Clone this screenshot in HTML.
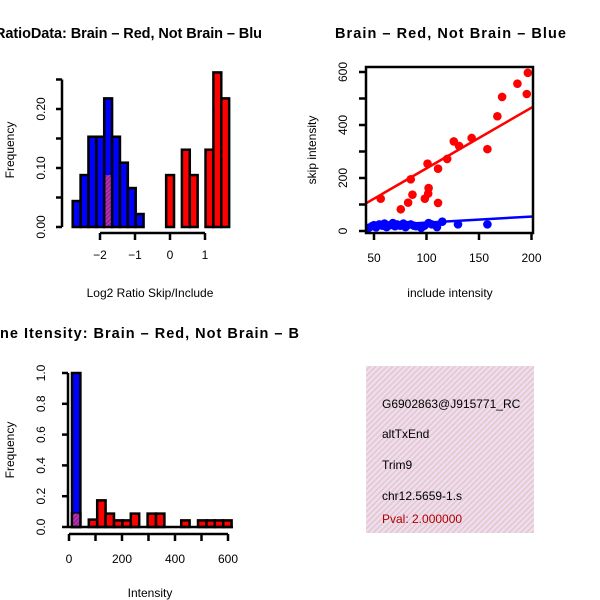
<!DOCTYPE html>
<html><head><meta charset="utf-8"><style>
html,body{margin:0;padding:0;background:#fff;}
svg{display:block;font-family:"Liberation Sans",Arial,sans-serif;}
</style></head><body>
<svg id="c" width="600" height="600" viewBox="0 0 600 600" xmlns="http://www.w3.org/2000/svg">
<defs>
<pattern id="hatch" patternUnits="userSpaceOnUse" width="4" height="4" patternTransform="rotate(45)">
<rect width="4" height="4" fill="#f6d8f2"/><rect width="1.5" height="4" fill="#d6cfc6"/>
</pattern>
<pattern id="ph" patternUnits="userSpaceOnUse" width="3" height="3" patternTransform="rotate(45)">
<rect width="3" height="3" fill="#9a1fa0"/><rect width="1" height="3" fill="#c040b0"/>
</pattern>
</defs>
<text x="-5" y="38" font-size="14.5" font-weight="bold" textLength="267">RatioData: Brain – Red, Not Brain – Blu</text>
<text x="335" y="38" font-size="14.5" font-weight="bold" textLength="231">Brain – Red, Not Brain – Blue</text>
<text x="0" y="338" font-size="14.5" font-weight="bold" textLength="299">ne Itensity: Brain – Red, Not Brain – B</text>
<g id="p1"></g>
<g id="p2"></g>
<g id="p3"></g>
<g>
<rect x="366" y="366" width="168" height="167" fill="url(#hatch)"/>
<svg x="366" y="366" width="168" height="167"><g font-size="12">
<text x="16" y="42">G6902863@J915771_RC</text>
<text x="16" y="72">altTxEnd</text>
<text x="16" y="103">Trim9</text>
<text x="16" y="134">chr12.5659-1.s</text>
<text x="16" y="157" fill="#b00000">Pval: 2.000000</text>
</g></svg>
</g>
</svg>
<script>
// ---- Panel 1 data: log2 ratio histogram ----
const ratioBlueStart = -2.78;
const ratioBinWidth = 0.225;
const ratioBlueFreq = [0.044, 0.088, 0.153, 0.153, 0.218, 0.153, 0.109, 0.066, 0.022];
const ratioOverlapBin = 4;
const ratioOverlapFreq = 0.088;
const ratioRedStart = -0.11;
const ratioRedFreq = [0.088, 0, 0.131, 0.088, 0, 0.131, 0.262, 0.218];
const ratioXTicks = [-2, -1, 0, 1];
const ratioYTicks = [0, 0.05, 0.10, 0.15, 0.20, 0.25];
const ratioYLabels = ["0.00", "", "0.10", "", "0.20", ""];

// ---- Panel 2 data: scatter ----
const redInclude = [56.4,75.5,82.5,85,86.6,98.4,101,101.6,102,111,111,119.7,126,131,143,158,167.5,172,186.6,195.5,196.5];
const redSkip = [122,82,107,195,137,122,254,141,162,235,106,272,338,321,351,309,433,506,556,517,597];
const blueInclude = [45,48,50,52,55,58,60,62,65,68,70,72,75,78,80,82,85,88,90,95,98,102,105,110,115,130,158];
const blueSkip = [12,18,22,14,25,20,28,15,22,30,18,25,20,28,15,22,25,20,18,12,20,30,25,15,35,25,25];
const redFit = [7.5, 2.29];
const blueFit = [8.5, 0.23];
const scatterXTicks = [50, 100, 150, 200];
const scatterYTicks = [0, 100, 200, 300, 400, 500, 600];
const scatterYLabels = ["0", "", "200", "", "400", "", "600"];

// ---- Panel 3 data: intensity histogram ----
const intStart = 11.3;
const intBinWidth = 31.7;
const intBlueFreq = [1.0];
const intOverlapFreq = [0.087];
const intRedFreq = [0.087,0,0.048,0.173,0.087,0.043,0.043,0.087,0,0.087,0.087,0,0,0.043,0,0.043,0.043,0.043,0.043];
const intXTicks = [0, 100, 200, 300, 400, 500, 600];
const intXLabels = ["0", "", "200", "", "400", "", "600"];
const intYTicks = [0, 0.2, 0.4, 0.6, 0.8, 1.0];
const intYLabels = ["0.0", "0.2", "0.4", "0.6", "0.8", "1.0"];

const NS = "http://www.w3.org/2000/svg";
function mk(parent, tag, attrs) {
  const e = document.createElementNS(NS, tag);
  for (const k in attrs) e.setAttribute(k, attrs[k]);
  parent.appendChild(e);
  return e;
}
function txt(parent, x, y, s, extra) {
  const t = mk(parent, "text", Object.assign({x: x, y: y, "font-size": 12, "text-anchor": "middle"}, extra || {}));
  t.textContent = s;
  return t;
}

// Panel 1
(function () {
  const g = document.getElementById("p1");
  const sx = v => 100 + (v + 2) * 35;
  const sy = v => 227 - v * 590;
  ratioBlueFreq.forEach((f, i) => {
    const x0 = sx(ratioBlueStart + i * ratioBinWidth), x1 = sx(ratioBlueStart + (i + 1) * ratioBinWidth);
    const r = mk(g, "rect", {x: x0, y: sy(f), width: x1 - x0, height: sy(0) - sy(f), fill: "#0000ff", stroke: "#000", "stroke-width": 2.5});
    
    
  });
  {
    const x0 = sx(ratioBlueStart + ratioOverlapBin * ratioBinWidth), x1 = sx(ratioBlueStart + (ratioOverlapBin + 1) * ratioBinWidth);
    const r = mk(g, "rect", {x: x0 + 1.3, y: sy(ratioOverlapFreq), width: x1 - x0 - 2.6, height: sy(0) - sy(ratioOverlapFreq) - 1.3, fill: "url(#ph)"});
    
    
  }
  ratioRedFreq.forEach((f, i) => {
    const x0 = sx(ratioRedStart + i * ratioBinWidth), x1 = sx(ratioRedStart + (i + 1) * ratioBinWidth);
    const r = mk(g, "rect", {x: x0, y: sy(f), width: x1 - x0, height: sy(0) - sy(f), fill: "#ff0000", stroke: "#000", "stroke-width": 2.5});
    
    
  });
  const ax = mk(g, "g", {stroke: "#000", "stroke-width": 2.5, fill: "none"});
  
  
  mk(ax, "line", {x1: 62, y1: sy(ratioYTicks[0]), x2: 62, y2: sy(ratioYTicks[ratioYTicks.length - 1])});
  ratioYTicks.forEach((t, i) => {
    mk(ax, "line", {x1: 56, y1: sy(t), x2: 62, y2: sy(t)});
    if (ratioYLabels[i]) {
      const l = txt(g, 0, 0, ratioYLabels[i], {transform: `translate(45,${sy(t)}) rotate(-90)`});
      
      
    }
  });
  mk(ax, "line", {x1: sx(ratioXTicks[0]), y1: 233, x2: sx(ratioXTicks[ratioXTicks.length - 1]), y2: 233});
  ratioXTicks.forEach(t => {
    mk(ax, "line", {x1: sx(t), y1: 233, x2: sx(t), y2: 240});
    const l = txt(g, sx(t), 259, t < 0 ? "\u2212" + Math.abs(t) : String(t));
    
    
  });
  const xl = txt(g, 150, 297, "Log2 Ratio Skip/Include");
  
  
  const yl = txt(g, 0, 0, "Frequency", {transform: "translate(14,150) rotate(-90)"});
  
  
})();

// Panel 2
(function () {
  const g = document.getElementById("p2");
  const sx = v => 374 + (v - 50) * 1.05;
  const sy = v => 231 - v * 0.265;
  const xmin = 42.4, xmax = 201.4;
  const clip = mk(g, "clipPath", {id: "scClip"});
  mk(clip, "rect", {x: 366, y: 67, width: 167, height: 166});
  const pts = mk(g, "g", {"clip-path": "url(#scClip)"});
  [[redFit, "#ff0000", "red-fit-line"], [blueFit, "#0000ff", "blue-fit-line"]].forEach(([f, c, n]) => {
    const l = mk(pts, "line", {x1: sx(xmin), y1: sy(f[0] + f[1] * xmin), x2: sx(xmax), y2: sy(f[0] + f[1] * xmax), stroke: c, "stroke-width": 2.5});
    
    
  });
  blueInclude.forEach((x, i) => {
    const p = mk(pts, "circle", {cx: sx(x), cy: sy(blueSkip[i]), r: 4.3, fill: "#0000ff"});
    
    
  });
  redInclude.forEach((x, i) => {
    const p = mk(pts, "circle", {cx: sx(x), cy: sy(redSkip[i]), r: 4.3, fill: "#ff0000"});
    
    
  });
  const box = mk(g, "rect", {x: 366, y: 67, width: 167, height: 166, fill: "none", stroke: "#000", "stroke-width": 2.5});
  
  
  scatterXTicks.forEach(t => {
    mk(g, "line", {x1: sx(t), y1: 233, x2: sx(t), y2: 240, stroke: "#000", "stroke-width": 2.5});
    const l = txt(g, sx(t), 262, String(t));
    
    
  });
  scatterYTicks.forEach((t, i) => {
    mk(g, "line", {x1: 359, y1: sy(t), x2: 366, y2: sy(t), stroke: "#000", "stroke-width": 2.5});
    if (scatterYLabels[i]) {
      const l = txt(g, 0, 0, scatterYLabels[i], {transform: `translate(347,${sy(t)}) rotate(-90)`});
      
      
    }
  });
  const xl = txt(g, 450, 297, "include intensity");
  
  
  const yl = txt(g, 0, 0, "skip intensity", {transform: "translate(316,150) rotate(-90)"});
  
  
})();

// Panel 3
(function () {
  const g = document.getElementById("p3");
  const sx = v => 69 + v * 0.265;
  const sy = v => 527 - v * 154;
  intBlueFreq.forEach((f, i) => {
    const x0 = sx(intStart + i * intBinWidth), x1 = sx(intStart + (i + 1) * intBinWidth);
    const r = mk(g, "rect", {x: x0, y: sy(f), width: x1 - x0, height: sy(0) - sy(f), fill: "#0000ff", stroke: "#000", "stroke-width": 2.5});
    
    
  });
  intRedFreq.forEach((f, i) => {
    if (!f) return;
    const x0 = sx(intStart + i * intBinWidth), x1 = sx(intStart + (i + 1) * intBinWidth);
    const r = mk(g, "rect", {x: x0, y: sy(f), width: x1 - x0, height: sy(0) - sy(f), fill: i === 0 ? "url(#ph)" : "#ff0000", stroke: "#000", "stroke-width": 2.5});
    
    
  });
  intOverlapFreq.forEach((f, i) => {
    const x0 = sx(intStart + i * intBinWidth), x1 = sx(intStart + (i + 1) * intBinWidth);
    const r = mk(g, "rect", {x: x0 + 1.3, y: sy(f), width: x1 - x0 - 2.6, height: sy(0) - sy(f) - 1.3, fill: "url(#ph)"});
    
    
  });
  mk(g, "line", {x1: 68, y1: sy(0), x2: 233, y2: sy(0), stroke: "#000", "stroke-width": 2.5});
  mk(g, "line", {x1: 68, y1: sy(intYTicks[0]), x2: 68, y2: sy(intYTicks[intYTicks.length - 1]), stroke: "#000", "stroke-width": 2.5});
  intYTicks.forEach((t, i) => {
    mk(g, "line", {x1: 62, y1: sy(t), x2: 68, y2: sy(t), stroke: "#000", "stroke-width": 2.5});
    const l = txt(g, 0, 0, intYLabels[i], {transform: `translate(45,${sy(t)}) rotate(-90)`});
    
    
  });
  mk(g, "line", {x1: sx(intXTicks[0]), y1: 534, x2: sx(intXTicks[intXTicks.length - 1]), y2: 534, stroke: "#000", "stroke-width": 2.5});
  intXTicks.forEach((t, i) => {
    mk(g, "line", {x1: sx(t), y1: 534, x2: sx(t), y2: 541, stroke: "#000", "stroke-width": 2.5});
    if (intXLabels[i]) {
      const l = txt(g, sx(t), 563, intXLabels[i]);
      
      
    }
  });
  const xl = txt(g, 150, 597, "Intensity");
  
  
  const yl = txt(g, 0, 0, "Frequency", {transform: "translate(14,450) rotate(-90)"});
  
  
})();
</script>
</body></html>
